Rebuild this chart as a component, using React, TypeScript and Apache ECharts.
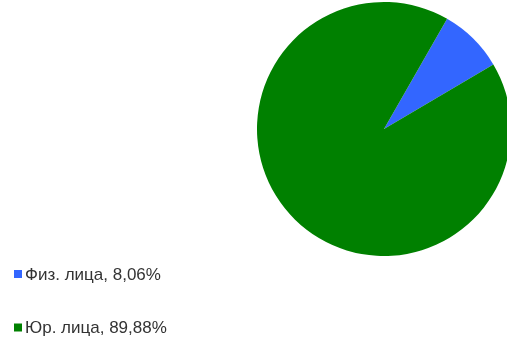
import React, { useEffect, useRef } from "react";
import * as echarts from "echarts";

const categories = ["Физ. лица", "Юр. лица"];
const values = [8.06, 89.88];
const colors = ["#3366ff", "#008000"];

export default function App() {
  const ref = useRef<HTMLDivElement>(null);
  useEffect(() => {
    if (!ref.current) return;
    const chart = echarts.init(ref.current, null, { renderer: "svg" });
    const data = categories.map((name, i) => ({
      name,
      value: values[i],
      itemStyle: { color: colors[i] },
    }));
    chart.setOption({
      animation: false,
      legend: {
        orient: "vertical",
        left: 14,
        top: 265.5,
        padding: 0,
        itemWidth: 8,
        itemHeight: 8,
        itemGap: 36.5,
        icon: "rect",
        selectedMode: false,
        textStyle: {
          fontFamily: "Liberation Sans, Arial, sans-serif",
          fontSize: 17,
          color: "#333333",
          padding: [0, 0, 0, -2],
        },
        formatter: (name: string) => {
          const i = categories.indexOf(name);
          return `${name}, ${values[i].toFixed(2).replace(".", ",")}%`;
        },
        data: categories,
      },
      series: [
        {
          type: "pie",
          center: [384, 129],
          radius: 127,
          startAngle: 60.2,
          clockwise: true,
          label: { show: false },
          labelLine: { show: false },
          itemStyle: { borderWidth: 0 },
          emphasis: { disabled: true },
          data,
        },
      ],
    });
    return () => chart.dispose();
  }, []);
  return (
    <div
      ref={ref}
      style={{ position: "fixed", left: 0, top: 0, width: 507, height: 338 }}
    />
  );
}
